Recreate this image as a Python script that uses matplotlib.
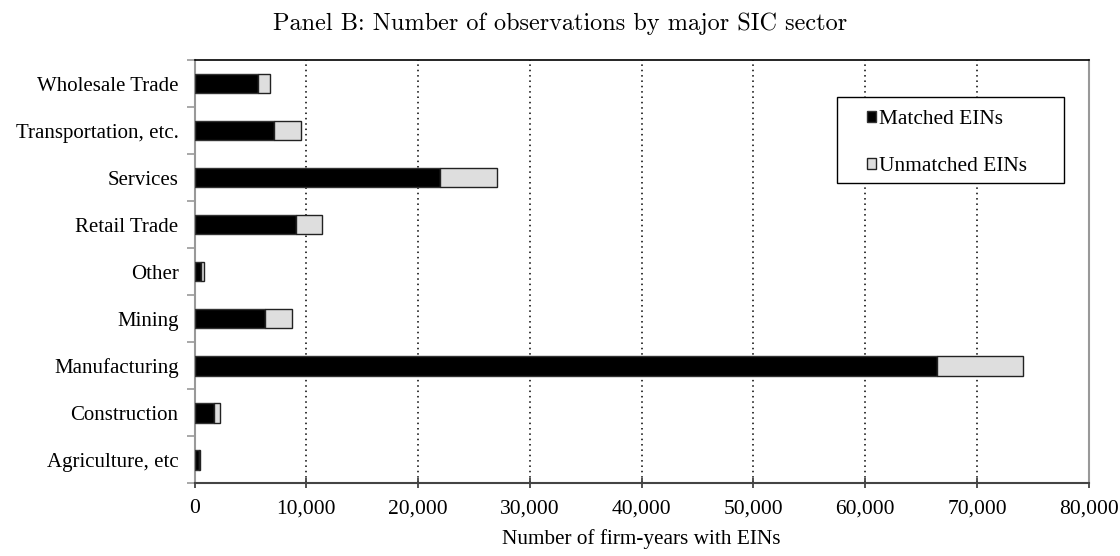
import matplotlib.pyplot as plt
from matplotlib.patches import Rectangle
from matplotlib.ticker import FuncFormatter

# sectors, bottom to top
sectors = ["Agriculture, etc", "Construction", "Manufacturing", "Mining", "Other",
           "Retail Trade", "Services", "Transportation, etc.", "Wholesale Trade"]
matched = [380, 1700, 66400, 6300, 550, 9050, 22000, 7100, 5700]
total = [450, 2250, 74100, 8750, 820, 11400, 27100, 9550, 6750]
unmatched = [t - m for t, m in zip(total, matched)]

plt.rcParams['font.family'] = ['Liberation Serif', 'DejaVu Serif']

fig = plt.figure(figsize=(11.2, 5.56), dpi=100)
ax = fig.add_axes([0.1737, 0.131, 0.7985, 0.761])

y = list(range(len(sectors)))
ax.barh(y, matched, height=0.42, color='black', edgecolor='#333333', linewidth=1,
        label='Matched EINs', zorder=3)
ax.barh(y, unmatched, left=matched, height=0.42, color='#dedede', edgecolor='#222222',
        linewidth=1, label='Unmatched EINs', zorder=3)

ax.set_xlim(0, 80000)
ax.set_ylim(-0.5, len(sectors) - 0.5)
ax.set_xticks(range(0, 80001, 10000))
ax.xaxis.set_major_formatter(FuncFormatter(lambda v, p: f"{int(v):,}"))
ax.xaxis.grid(True, linestyle=(0, (1, 2.5)), color='black', linewidth=1.1, zorder=1)

# labels centered in each band, ticks on the band edges
ax.set_yticks(y)
ax.set_yticklabels(sectors, fontsize=15)
ax.set_yticks([i + 0.5 for i in range(-1, len(sectors))], minor=True)
ax.tick_params(axis='y', which='major', length=0, pad=11.5)
ax.tick_params(axis='y', which='minor', length=6, width=1.2, color='#999999', direction='out')
ax.tick_params(axis='x', labelsize=15.5, length=7, width=1.2, direction='inout', pad=8, color='#333333')

for side in ['left', 'right']:
    ax.spines[side].set_color('#999999')
    ax.spines[side].set_linewidth(1.5)
ax.spines['bottom'].set_color('#444444')
ax.spines['bottom'].set_linewidth(1.5)
ax.spines['top'].set_color('black')
ax.spines['top'].set_linewidth(1.2)

ax.set_xlabel("Number of firm-years with EINs", fontsize=15.3, labelpad=8)

# legend box drawn separately so the padding can differ left/right vs top/bottom
ax.add_patch(Rectangle((0.718, 0.709), 0.254, 0.204, transform=ax.transAxes,
                       facecolor='white', edgecolor='black', linewidth=1.0, zorder=4))
leg = ax.legend(loc='center left', bbox_to_anchor=(0.752, 0.804), fontsize=15.4,
                frameon=False, handlelength=0.42, handleheight=0.42, handletextpad=0.15,
                labelspacing=1.3, borderpad=0, borderaxespad=0)
leg.set_zorder(5)

fig.text(0.5, 0.958, "Panel B: Number of observations by major SIC sector",
         ha='center', va='center', fontsize=17.5, family='cmr10')

fig.savefig("out.png", dpi=100)
